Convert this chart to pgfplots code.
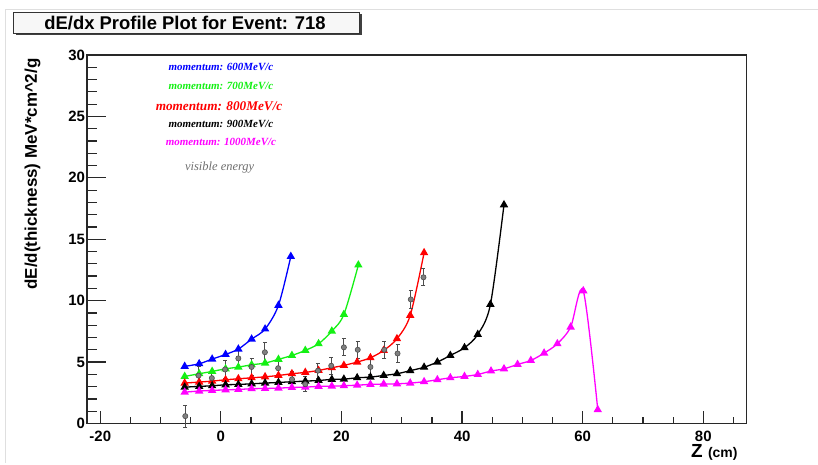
\documentclass[border=0pt]{standalone}
\usepackage{pgfplots}
\pgfplotsset{compat=1.18}
\usepackage{fontspec}
\setmainfont{Liberation Sans}
\newfontfamily\rootserif{Liberation Serif}

\definecolor{pblue}{RGB}{0,0,255}
\definecolor{pgreen}{RGB}{20,240,20}
\definecolor{pred}{RGB}{255,0,0}
\definecolor{pmag}{RGB}{255,0,255}
\definecolor{visgray}{RGB}{110,110,110}
\definecolor{framegray}{RGB}{40,40,40}

\begin{document}
\begin{tikzpicture}[x=1bp,y=1bp]
\path[use as bounding box] (0,0) rectangle (818,465);
% canvas border
\draw[gray!25, line width=0.8bp] (5,2) -- (5,456) -- (818,456);

% title box with shadow
\fill[black!75] (15.5,429.5) rectangle (361.5,450.5);
\draw[black!80, line width=0.8bp, fill=gray!6] (13,452.7) rectangle (359.5,431.7);
\node[font=\bfseries\fontsize{18.5}{18.5}\selectfont] at (185,441.5) {dE/dx Profile Plot for Event: 718};

% axis titles
\node[rotate=90, anchor=south east, font=\bfseries\fontsize{17}{17}\selectfont]
  at (44,410) {dE/d(thickness) MeV*cm\textasciicircum 2/g};
\node[anchor=base east] at (741,7)
  {\bfseries\fontsize{19}{19}\selectfont Z \fontsize{14}{14}\selectfont(cm)};

\begin{axis}[
  at={(87bp,41.5bp)}, anchor=south west,
  width=659.7bp, height=368.5bp, scale only axis,
  xmin=-22.2, xmax=87.2, ymin=0, ymax=30,
  axis line style={framegray, line width=1.1bp},
  tick pos=left, tick align=inside,
  major tick length=0pt, minor tick length=0pt,
  xtick={-20,0,20,40,60,80}, xticklabels={-20,0,20,40,60,80},
  ytick={0,5,10,15,20,25,30}, yticklabels={0,5,10,15,20,25,30},
  xticklabel style={font=\bfseries\fontsize{15}{15}\selectfont, yshift=-4bp},
  yticklabel style={font=\bfseries\fontsize{15}{15}\selectfont, xshift=1.5bp},
  clip=false,
  every axis plot/.append style={line width=1.3bp, mark=triangle*, mark size=3.6bp, mark options={solid}},
]

% momentum 600 MeV/c
\addplot[pblue, smooth] coordinates {
(-6.0,4.65) (-3.6,4.86) (-1.45,5.24) (0.78,5.62) (2.9,6.06) (5.1,6.87) (7.33,7.69) (9.55,9.62) (11.6,13.6)
};
% momentum 700 MeV/c
\addplot[pgreen, smooth] coordinates {
(-6.0,3.83) (-3.6,4.05) (-1.45,4.24) (0.78,4.45) (2.9,4.59) (5.1,4.78) (7.33,4.92) (9.55,5.22)
(11.78,5.54) (14.0,5.95) (16.2,6.49) (18.4,7.52) (20.4,8.88) (22.8,12.9)
};
% momentum 800 MeV/c
\addplot[pred, smooth] coordinates {
(-6.0,3.29) (-3.6,3.37) (-1.45,3.45) (0.78,3.56) (2.9,3.64) (5.1,3.72) (7.33,3.80) (9.55,3.91)
(11.78,4.05) (14.0,4.16) (16.2,4.32) (18.4,4.54) (20.4,4.73) (22.6,5.0) (24.8,5.35) (27.0,5.95)
(29.2,6.9) (31.4,8.8) (33.7,13.9)
};
% momentum 900 MeV/c
\addplot[black, smooth] coordinates {
(-6.0,2.96) (-3.6,3.02) (-1.45,3.07) (0.78,3.15) (2.9,3.18) (5.1,3.23) (7.33,3.29) (9.55,3.34)
(11.78,3.40) (14.0,3.45) (16.2,3.50) (18.4,3.59) (20.4,3.61) (22.6,3.72) (24.8,3.78) (27.0,3.91)
(29.2,4.05) (31.4,4.30) (33.7,4.58) (35.9,5.00) (38.05,5.54) (40.4,6.17) (42.6,7.25) (44.7,9.70)
(46.95,17.8)
};
% momentum 1000 MeV/c
\addplot[pmag, smooth] coordinates {
(-6.0,2.55) (-3.6,2.64) (-1.45,2.69) (0.78,2.74) (2.9,2.77) (5.1,2.83) (7.33,2.85) (9.55,2.88)
(11.78,2.93) (14.0,2.96) (16.2,3.02) (18.4,3.04) (20.4,3.07) (22.6,3.12) (24.8,3.18) (27.0,3.21)
(29.2,3.23) (31.4,3.29) (33.7,3.40) (35.9,3.56) (38.05,3.72) (40.4,3.83) (42.6,3.99) (44.8,4.27)
(46.95,4.45) (49.2,4.81) (51.4,5.13) (53.6,5.73) (55.8,6.49) (58.0,7.85) (60.1,10.8) (62.5,1.12)
};
% visible energy
\addplot[only marks, line width=1bp, mark=*, mark size=2.6bp,
  mark options={fill=gray, draw=black!70, line width=0.6bp},
  error bars/.cd, y dir=both, y explicit,
  error bar style={black!70, line width=1bp},
  error mark options={rotate=90, mark size=2bp, line width=1bp, black!70}]
coordinates {
(-5.9,0.6) +- (0,0.9)
(-3.7,3.9) +- (0,0.7)
(-1.5,3.7) +- (0,0.6)
(0.7,4.4) +- (0,0.7)
(2.9,5.3) +- (0,0.8)
(5.1,4.6) +- (0,0.7)
(7.3,5.8) +- (0,0.8)
(9.5,4.5) +- (0,0.6)
(11.8,3.6) +- (0,0.6)
(14.0,3.2) +- (0,0.6)
(16.1,4.3) +- (0,0.6)
(18.3,4.7) +- (0,0.7)
(20.4,6.2) +- (0,0.7)
(22.7,6.0) +- (0,0.7)
(24.8,4.6) +- (0,0.6)
(27.1,6.0) +- (0,0.7)
(29.3,5.7) +- (0,0.7)
(31.5,10.1) +- (0,0.7)
(33.6,11.9) +- (0,0.7)
};

% annotations
\node[text=pblue, font=\rootserif\bfseries\itshape\fontsize{11}{11}\selectfont] at (axis cs:0,29.0) {momentum: 600MeV/c};
\node[text=pgreen, font=\rootserif\bfseries\itshape\fontsize{11}{11}\selectfont] at (axis cs:0,27.45) {momentum: 700MeV/c};
\node[text=pred, font=\rootserif\bfseries\itshape\fontsize{13.3}{13.3}\selectfont] at (axis cs:-0.3,25.8) {momentum: 800MeV/c};
\node[text=black, font=\rootserif\bfseries\itshape\fontsize{11}{11}\selectfont] at (axis cs:0,24.35) {momentum: 900MeV/c};
\node[text=pmag, font=\rootserif\bfseries\itshape\fontsize{11}{11}\selectfont] at (axis cs:0,22.9) {momentum: 1000MeV/c};
\node[text=visgray, font=\rootserif\itshape\fontsize{12.5}{12.5}\selectfont] at (axis cs:-0.2,20.8) {visible energy};
\end{axis}

% ROOT-style inner ticks of the frame (x: 6.0302 bp per cm from 220.87 bp; y: 12.283 bp per unit from 41.5 bp)
\begin{scope}[framegray, line width=1.2bp]
  \foreach \t in {-20,0,20,40,60,80}
    \draw ({220.87+6.0302*\t},41.5) -- ++(0,12);
  \foreach \t in {-15,-10,-5,5,10,15,25,30,35,45,50,55,65,70,75,85}
    \draw ({220.87+6.0302*\t},41.5) -- ++(0,6);
  \foreach \t in {0,5,10,15,20,25,30}
    \draw (87,{41.5+12.283*\t}) -- ++(19,0);
  \foreach \t in {1,2,3,4,6,7,8,9,11,12,13,14,16,17,18,19,21,22,23,24,26,27,28,29}
    \draw (87,{41.5+12.283*\t}) -- ++(9.5,0);
\end{scope}
\end{tikzpicture}
\end{document}
